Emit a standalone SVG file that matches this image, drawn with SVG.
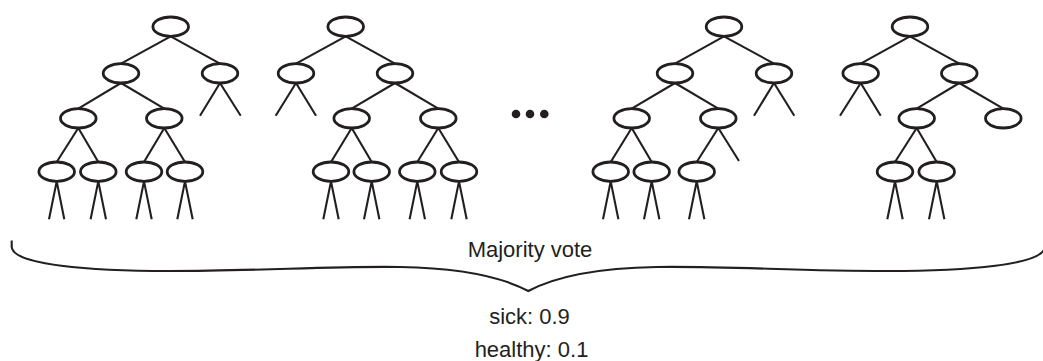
<svg xmlns="http://www.w3.org/2000/svg" width="1043" height="361" viewBox="0 0 1043 361">
<style>
.n{fill:#fff;stroke:#231f20;stroke-width:2.8}
.e{stroke:#231f20;stroke-width:2.1;fill:none;stroke-linecap:butt}
.t{font-family:"Liberation Sans",Arial,sans-serif;font-size:22px;fill:#231f20;text-anchor:middle}
</style>
<rect width="1043" height="361" fill="#fff"/>
<g id="connectors" class="e">
<!-- tree 1 -->
<path d="M170.7 36.4L121 63.6M170.7 36.4L220 63.6M121 83L78.3 108.6M121 83L164.3 108.6M78.3 128L56.7 162M78.3 128L98.3 162M164.3 128L144 162M164.3 128L185 162M220 83L200 115.7M220 83L240.7 115.7"/>
<path d="M56.7 181.4L49 219.3M56.7 181.4L64.3 219.3M98.3 181.4L90.6 219.3M98.3 181.4L106 219.3M144 181.4L136.3 219.3M144 181.4L151.7 219.3M185 181.4L177.3 219.3M185 181.4L192.7 219.3"/>
<!-- tree 2 -->
<path d="M345.7 36.4L296 63.6M345.7 36.4L395 63.6M296 83L275.7 115.7M296 83L316 115.7M395 83L351.7 108.6M395 83L438.3 108.6M351.7 128L331 162M351.7 128L371.7 162M438.3 128L417.3 162M438.3 128L459 162"/>
<path d="M331 181.4L323.3 219.3M331 181.4L338.7 219.3M371.7 181.4L364 219.3M371.7 181.4L379.4 219.3M417.3 181.4L409.6 219.3M417.3 181.4L425 219.3M459 181.4L451.3 219.3M459 181.4L466.7 219.3"/>
<!-- tree 3 -->
<path d="M724 36.4L675 63.6M724 36.4L774 63.6M774 83L754 115.7M774 83L794.3 115.7M675 83L631.7 108.6M675 83L718.3 108.6M631.7 128L610.7 162M631.7 128L651.7 162M718.3 128L696.7 162M718.3 128L739 161"/>
<path d="M610.7 181.4L603 219.3M610.7 181.4L618.4 219.3M651.7 181.4L644 219.3M651.7 181.4L659.4 219.3M696.7 181.4L689 219.3M696.7 181.4L704.4 219.3"/>
<!-- tree 4 -->
<path d="M910 36.4L860.7 63.6M910 36.4L959.3 63.6M860.7 83L840 115.7M860.7 83L880.7 115.7M959.3 83L916.7 108.6M959.3 83L1003.3 108.6M916.7 128L895 162M916.7 128L936.7 162"/>
<path d="M895 181.4L887.3 219.3M895 181.4L902.7 219.3M936.7 181.4L929 219.3M936.7 181.4L944.4 219.3"/>
</g>
<g id="tree1">
<ellipse id="t1n1" class="n" cx="170.7" cy="26.7" rx="17.8" ry="9.7"/>
<ellipse id="t1n2" class="n" cx="121" cy="73.3" rx="17.8" ry="9.7"/>
<ellipse id="t1n3" class="n" cx="220" cy="73.3" rx="17.8" ry="9.7"/>
<ellipse id="t1n4" class="n" cx="78.3" cy="118.3" rx="17.8" ry="9.7"/>
<ellipse id="t1n5" class="n" cx="164.3" cy="118.3" rx="17.8" ry="9.7"/>
<ellipse id="t1n6" class="n" cx="56.7" cy="171.7" rx="17.8" ry="9.7"/>
<ellipse id="t1n7" class="n" cx="98.3" cy="171.7" rx="17.8" ry="9.7"/>
<ellipse id="t1n8" class="n" cx="144" cy="171.7" rx="17.8" ry="9.7"/>
<ellipse id="t1n9" class="n" cx="185" cy="171.7" rx="17.8" ry="9.7"/>
</g>
<g id="tree2">
<ellipse id="t2n1" class="n" cx="345.7" cy="26.7" rx="17.8" ry="9.7"/>
<ellipse id="t2n2" class="n" cx="296" cy="73.3" rx="17.8" ry="9.7"/>
<ellipse id="t2n3" class="n" cx="395" cy="73.3" rx="17.8" ry="9.7"/>
<ellipse id="t2n4" class="n" cx="351.7" cy="118.3" rx="17.8" ry="9.7"/>
<ellipse id="t2n5" class="n" cx="438.3" cy="118.3" rx="17.8" ry="9.7"/>
<ellipse id="t2n6" class="n" cx="331" cy="171.7" rx="17.8" ry="9.7"/>
<ellipse id="t2n7" class="n" cx="371.7" cy="171.7" rx="17.8" ry="9.7"/>
<ellipse id="t2n8" class="n" cx="417.3" cy="171.7" rx="17.8" ry="9.7"/>
<ellipse id="t2n9" class="n" cx="459" cy="171.7" rx="17.8" ry="9.7"/>
</g>
<g id="dots" fill="#231f20">
<circle cx="516" cy="114" r="4.3"/>
<circle cx="530" cy="114" r="4.3"/>
<circle cx="544.3" cy="114" r="4.3"/>
</g>
<g id="tree3">
<ellipse id="t3n1" class="n" cx="724" cy="26.7" rx="17.8" ry="9.7"/>
<ellipse id="t3n2" class="n" cx="675" cy="73.3" rx="17.8" ry="9.7"/>
<ellipse id="t3n3" class="n" cx="774" cy="73.3" rx="17.8" ry="9.7"/>
<ellipse id="t3n4" class="n" cx="631.7" cy="118.3" rx="17.8" ry="9.7"/>
<ellipse id="t3n5" class="n" cx="718.3" cy="118.3" rx="17.8" ry="9.7"/>
<ellipse id="t3n6" class="n" cx="610.7" cy="171.7" rx="17.8" ry="9.7"/>
<ellipse id="t3n7" class="n" cx="651.7" cy="171.7" rx="17.8" ry="9.7"/>
<ellipse id="t3n8" class="n" cx="696.7" cy="171.7" rx="17.8" ry="9.7"/>
</g>
<g id="tree4">
<ellipse id="t4n1" class="n" cx="910" cy="26.7" rx="17.8" ry="9.7"/>
<ellipse id="t4n2" class="n" cx="860.7" cy="73.3" rx="17.8" ry="9.7"/>
<ellipse id="t4n3" class="n" cx="959.3" cy="73.3" rx="17.8" ry="9.7"/>
<ellipse id="t4n4" class="n" cx="916.7" cy="118.3" rx="17.8" ry="9.7"/>
<ellipse id="t4n5" class="n" cx="1003.3" cy="118.3" rx="17.8" ry="9.7"/>
<ellipse id="t4n6" class="n" cx="895" cy="171.7" rx="17.8" ry="9.7"/>
<ellipse id="t4n7" class="n" cx="936.7" cy="171.7" rx="17.8" ry="9.7"/>
</g>
<g id="brace">
<path class="e" d="M11.7 240.5V247C13 265 90 271 170 271C260 271 330 266 400 267C460 268 500 276 528.3 291C556.6 276 596.6 268 656.6 267C726.6 266 796.6 271 886.6 271C966.6 271 1043.6 265 1044.9 247V240.5"/>
</g>
<g id="labels">
<text class="t" x="530" y="257">Majority vote</text>
<text class="t" x="529.5" y="324">sick: 0.9</text>
<text class="t" x="531.5" y="356.5">healthy: 0.1</text>
</g>
</svg>
